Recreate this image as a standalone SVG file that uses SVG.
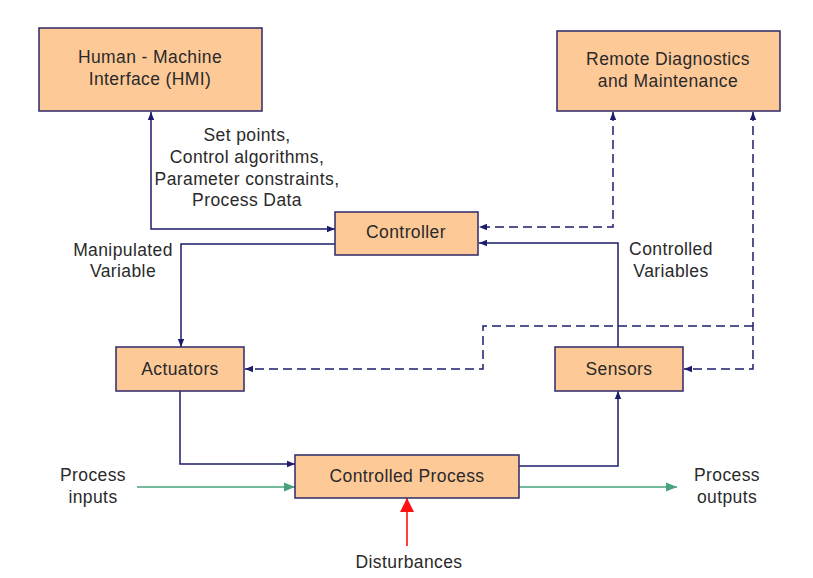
<svg xmlns="http://www.w3.org/2000/svg" width="813" height="578" viewBox="0 0 813 578">
<defs>
<style>
.box{fill:#FDC997;stroke:#3B3470;stroke-width:1.6}
.t{font-family:"Liberation Sans",Arial,sans-serif;font-size:17.5px;letter-spacing:0.4px;fill:#2a2a2a;text-anchor:middle}
.ln{fill:none;stroke:#1C1C6E;stroke-width:1.5}
.dash{stroke-dasharray:9 5}
.gr{fill:none;stroke:#4AA27A;stroke-width:1.5}
.rd{fill:none;stroke:#FF1010;stroke-width:1.6}
</style>
<marker id="ab" markerUnits="userSpaceOnUse" viewBox="0 0 10 10" refX="10" refY="5" markerWidth="8" markerHeight="8" orient="auto-start-reverse">
<path d="M0,1 L10,5 L0,9 Z" fill="#1C1C6E"/>
</marker>
<marker id="ag" markerUnits="userSpaceOnUse" viewBox="0 0 10 10" refX="10" refY="5" markerWidth="11" markerHeight="11" orient="auto">
<path d="M0,1 L10,5 L0,9 Z" fill="#4AA27A"/>
</marker>
<marker id="ar" markerUnits="userSpaceOnUse" viewBox="0 0 10 10" refX="10" refY="5" markerWidth="18" markerHeight="14" orient="auto">
<path d="M0,0 L10,5 L0,10 Z" fill="#FF1010"/>
</marker>
</defs>
<rect width="813" height="578" fill="#fff"/>
<g id="connectors">
<path class="ln" d="M151,112 V229 H335" marker-start="url(#ab)" marker-end="url(#ab)"/>
<path class="ln" d="M335,244 H181 V347" marker-end="url(#ab)"/>
<path class="ln dash" d="M613,112 V227 H479" marker-start="url(#ab)" marker-end="url(#ab)"/>
<path class="ln" d="M618,347 V243 H479" marker-end="url(#ab)"/>
<path class="ln dash" d="M753,112 V369 H684" marker-start="url(#ab)" marker-end="url(#ab)"/>
<path class="ln dash" d="M753,326 H483 V369 H245" marker-end="url(#ab)"/>
<path class="ln" d="M180,391 V464 H295" marker-end="url(#ab)"/>
<path class="ln" d="M519,466 H618 V391" marker-end="url(#ab)"/>
<path class="gr" d="M137,487 H295" marker-end="url(#ag)"/>
<path class="gr" d="M519,487 H677" marker-end="url(#ag)"/>
<path class="rd" d="M407,546 V498" marker-end="url(#ar)"/>
</g>
<g id="hmi">
<rect class="box" x="39" y="28" width="223" height="83"/>
<text class="t" x="150" y="63">Human - Machine</text>
<text class="t" x="150" y="85">Interface (HMI)</text>
</g>
<g id="remote">
<rect class="box" x="557" y="31" width="223" height="80"/>
<text class="t" x="668" y="65">Remote Diagnostics</text>
<text class="t" x="668" y="87">and Maintenance</text>
</g>
<g id="controller">
<rect class="box" x="335" y="212" width="143" height="43"/>
<text class="t" x="406" y="238">Controller</text>
</g>
<g id="actuators">
<rect class="box" x="116" y="347" width="128" height="44"/>
<text class="t" x="180" y="375">Actuators</text>
</g>
<g id="sensors">
<rect class="box" x="555" y="347" width="128" height="44"/>
<text class="t" x="619" y="375">Sensors</text>
</g>
<g id="process">
<rect class="box" x="295" y="455" width="224" height="43"/>
<text class="t" x="407" y="482">Controlled Process</text>
</g>
<g id="labels">
<text class="t" x="247" y="141">Set points,</text>
<text class="t" x="247" y="163">Control algorithms,</text>
<text class="t" x="247" y="185">Parameter constraints,</text>
<text class="t" x="247" y="206">Process Data</text>
<text class="t" x="123" y="256">Manipulated</text>
<text class="t" x="123" y="277">Variable</text>
<text class="t" x="671" y="255">Controlled</text>
<text class="t" x="671" y="277">Variables</text>
<text class="t" x="93" y="481">Process</text>
<text class="t" x="93" y="503">inputs</text>
<text class="t" x="727" y="481">Process</text>
<text class="t" x="727" y="503">outputs</text>
<text class="t" x="409" y="568">Disturbances</text>
</g>
</svg>
